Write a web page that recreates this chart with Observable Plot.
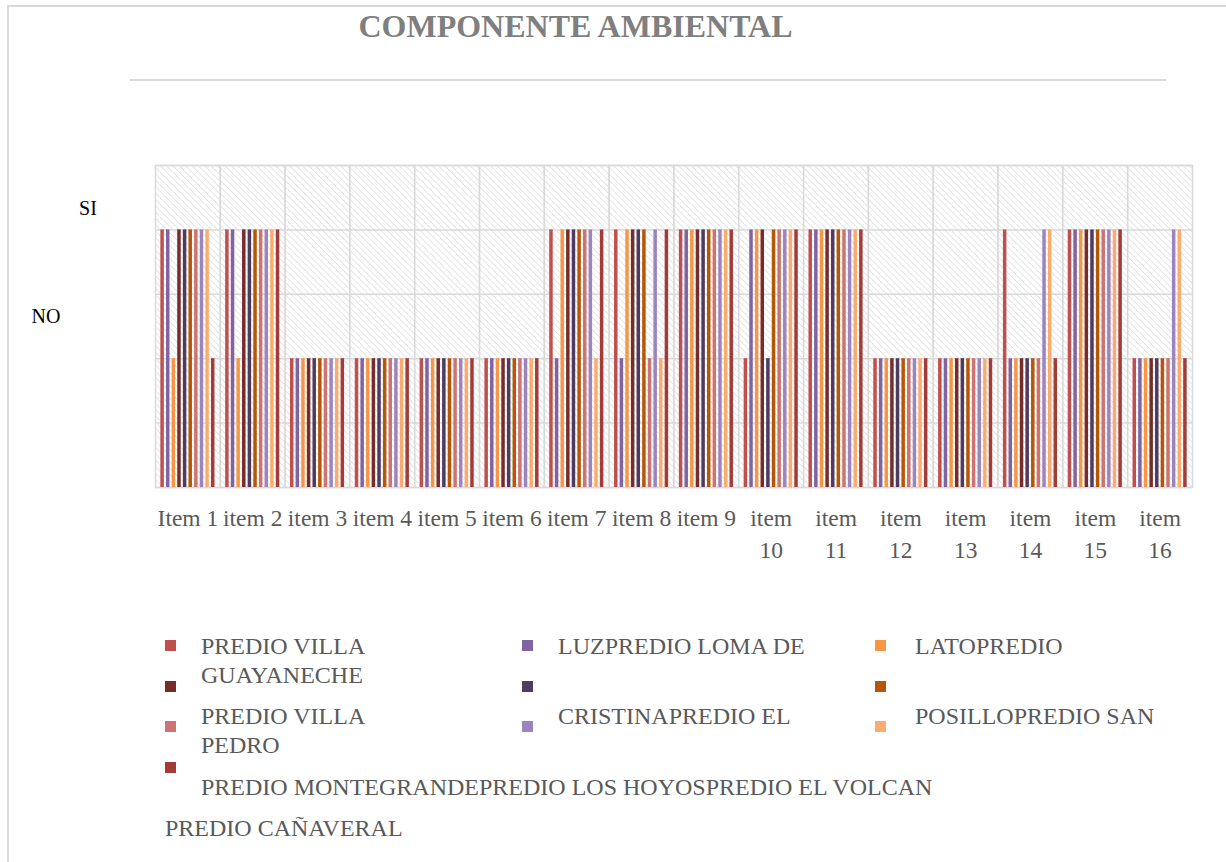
<!DOCTYPE html>
<html>
<head>
<meta charset="utf-8">
<script src="https://cdn.jsdelivr.net/npm/d3@7"></script>
<script src="https://cdn.jsdelivr.net/npm/@observablehq/plot@0.6"></script>
<style>
  body { margin: 0; background: #fff; }
  #wrap { position: relative; width: 1226px; height: 862px; overflow: hidden; font-family: "Liberation Serif", "Times New Roman", serif; }
  #frame { position: absolute; left: 7px; top: 5px; width: 1300px; height: 900px; border-left: 2px solid #d9d9d9; border-top: 2px solid #d9d9d9; }
  #title { position: absolute; left: 0; width: 1151px; top: 8px; text-align: center; font-weight: bold; font-size: 32px; color: #7f7f7f; }
  #rule { position: absolute; left: 130px; top: 79px; width: 1036px; height: 0; border-top: 2px solid #d9d9d9; }
  #chart { position: absolute; left: 0; top: 0; }
  .ylab { position: absolute; font-size: 20px; color: #000; transform: translate(-50%, -50%); white-space: nowrap; }
  .sw { position: absolute; width: 11px; height: 11px; }
  .lt { position: absolute; font-size: 24px; line-height: 29px; color: #595959; white-space: pre; }
</style>
</head>
<body>
<div id="wrap">
  <div id="frame"></div>
  <div id="title">COMPONENTE AMBIENTAL</div>
  <div id="rule"></div>
  <div id="chart"></div>
</div>
<script>
// ---- data ----
const items = ["Item 1","item 2","item 3","item 4","item 5","item 6","item 7","item 8",
               "item 9","item 10","item 11","item 12","item 13","item 14","item 15","item 16"];
const itemTickLabels = ["Item 1","item 2","item 3","item 4","item 5","item 6","item 7","item 8",
               "item 9","item\n10","item\n11","item\n12","item\n13","item\n14","item\n15","item\n16"];
const seriesIds = [0,1,2,3,4,5,6,7,8,9];
const seriesColors = ["#C0504D","#8064A2","#F79646","#772C2A","#4D3B62","#B65708",
                      "#CD7371","#9C85BF","#FAAC6F","#A33B38"];
// legend texts as shown (one entry per series)
const legendTexts = ["PREDIO VILLA\nGUAYANECHE","LUZPREDIO LOMA DE","LATOPREDIO",
                     "","","",
                     "PREDIO VILLA\nPEDRO","CRISTINAPREDIO EL","POSILLOPREDIO SAN",
                     "PREDIO MONTEGRANDEPREDIO LOS HOYOSPREDIO EL VOLCAN"];
const legendTail = "PREDIO CAÑAVERAL";
// answer levels: SI = 2, NO = 1 ; one row per item, one value per series
const answers = [
  [2,2,1,2,2,2,2,2,2,1], // Item 1
  [2,2,1,2,2,2,2,2,2,2], // item 2
  [1,1,1,1,1,1,1,1,1,1], // item 3
  [1,1,1,1,1,1,1,1,1,1], // item 4
  [1,1,1,1,1,1,1,1,1,1], // item 5
  [1,1,1,1,1,1,1,1,1,1], // item 6
  [2,1,2,2,2,2,2,2,1,2], // item 7
  [2,1,2,2,2,2,1,2,1,2], // item 8
  [2,2,2,2,2,2,2,2,2,2], // item 9
  [1,2,2,2,1,2,2,2,2,2], // item 10
  [2,2,2,2,2,2,2,2,2,2], // item 11
  [1,1,1,1,1,1,1,1,1,1], // item 12
  [1,1,1,1,1,1,1,1,1,1], // item 13
  [2,1,1,1,1,1,1,2,2,1], // item 14
  [2,2,2,2,2,2,2,2,2,2], // item 15
  [1,1,1,1,1,1,1,2,2,1]  // item 16
];
const yGridValues = [0, 0.5, 1, 1.5, 2, 2.5];
const yLabels = ["SI", "NO"];

// ---- table ----
const rows = [];
items.forEach((it, i) => seriesIds.forEach((s, j) => rows.push({item: it, series: s, value: answers[i][j]})));

const plot = Plot.plot({
  width: 1226,
  height: 580,
  marginLeft: 155,
  marginRight: 34,
  marginTop: 165,
  marginBottom: 93,
  style: {fontFamily: "'Liberation Serif', 'Times New Roman', serif", fontSize: "23.5px", color: "#595959", background: "transparent"},
  fx: {domain: items, padding: 0, round: false, label: null},
  x: {domain: seriesIds, axis: null, round: false, paddingInner: 0.38, paddingOuter: 0.95},
  y: {domain: [0, 2.5], axis: null},
  color: {domain: seriesIds, range: seriesColors},
  marks: [
    Plot.frame({fill: "url(#hatch)", stroke: "#d9d9d9", strokeWidth: 1.5}),
    Plot.gridY(yGridValues, {stroke: "#d9d9d9", strokeOpacity: 1, strokeWidth: 1.5}),
    Plot.barY(rows, {fx: "item", x: "series", y: "value", fill: "series"}),
    Plot.axisFx({anchor: "bottom", tickSize: 0, tickPadding: 15, label: null, fontSize: 23.5, lineHeight: 1.38,
                 tickFormat: d => itemTickLabels[items.indexOf(d)]})
  ]
});

// hatch pattern for plot area
const svg = d3.select(plot);
const defs = svg.insert("defs", ":first-child");
const pat = defs.append("pattern").attr("id", "hatch").attr("patternUnits", "userSpaceOnUse")
  .attr("width", 4.5).attr("height", 4.5).attr("patternTransform", "rotate(-45)");
pat.append("rect").attr("width", 4.5).attr("height", 4.5).attr("fill", "#ffffff");
pat.append("line").attr("x1", 0).attr("y1", 0).attr("x2", 0).attr("y2", 4.5)
  .attr("stroke", "#dadada").attr("stroke-width", 1.4);

document.getElementById("chart").appendChild(plot);

// y category labels
const wrap = document.getElementById("wrap");
const yLabelPos = [[88, 208], [46, 316]];
yLabels.forEach((t, i) => {
  const d = document.createElement("div");
  d.className = "ylab"; d.textContent = t;
  d.style.left = yLabelPos[i][0] + "px"; d.style.top = yLabelPos[i][1] + "px";
  wrap.appendChild(d);
});

// legend (3 columns, row-major)
const colSwX = [165, 522, 875];
const colTxtX = [201, 558, 915];
const rowSwTop = [640, 681, 721, 762];
const rowTxtTop = [632, null, 702, 773];
seriesIds.forEach((s, i) => {
  const r = Math.floor(i / 3), c = i % 3;
  const sw = document.createElement("div");
  sw.className = "sw"; sw.style.background = seriesColors[i];
  sw.style.left = colSwX[c] + "px"; sw.style.top = rowSwTop[r] + "px";
  wrap.appendChild(sw);
  if (legendTexts[i]) {
    const t = document.createElement("div");
    t.className = "lt"; t.textContent = legendTexts[i];
    t.style.left = colTxtX[c] + "px"; t.style.top = rowTxtTop[r] + "px";
    wrap.appendChild(t);
  }
});
const tail = document.createElement("div");
tail.className = "lt"; tail.textContent = legendTail;
tail.style.left = "165px"; tail.style.top = "814px";
wrap.appendChild(tail);
</script>
</body>
</html>
